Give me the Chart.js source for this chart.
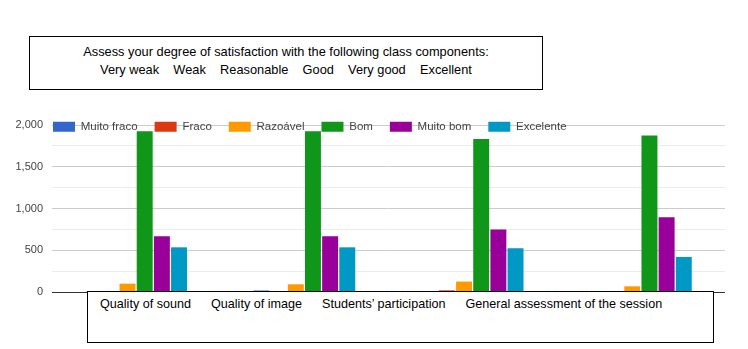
<!DOCTYPE html>
<html>
<head>
<meta charset="utf-8">
<script src="https://cdn.jsdelivr.net/npm/chart.js@4/dist/chart.umd.min.js"></script>
<style>
  html, body { margin: 0; padding: 0; background: #fff; }
  #wrap { position: relative; width: 748px; height: 349px; overflow: hidden; }
  canvas { position: absolute; left: 0; top: 0; }
  .box {
    position: absolute; background: #fff; border: 1px solid #000;
    font-family: "Liberation Sans", Arial, sans-serif; font-size: 12.8px; color: #000;
    box-sizing: border-box;
  }
  #question { left: 29px; top: 36px; width: 514px; height: 54px; text-align: center; padding-top: 6px; line-height: 18px; }
  #question .scale { white-space: pre; }
  #categoryBox { left: 87px; top: 291px; width: 627px; height: 52px; padding: 5px 0 0 12px; font-size: 12.6px; }
  #categoryBox span { margin-right: 20px; }
</style>
</head>
<body>
<div id="wrap">
  <canvas id="chart" width="748" height="349"></canvas>
  <div class="box" id="question">
    <div>Assess your degree of satisfaction with the following class components:</div>
    <div class="scale" id="scaleLine"></div>
  </div>
  <div class="box" id="categoryBox"></div>
</div>
<script>
// categories and series
const categories = ['Quality of sound', 'Quality of image', 'Students\u2019 participation', 'General assessment of the session'];
const seriesNames = ['Muito fraco', 'Fraco', 'Razoável', 'Bom', 'Muito bom', 'Excelente'];
const scaleLabels = ['Very weak', 'Weak', 'Reasonable', 'Good', 'Very good', 'Excellent'];

const muitoFraco = [3, 18, 1, 2];
const fraco = [9, 4, 20, 4];
const razoavel = [100, 92, 125, 68];
const bom = [1926, 1926, 1833, 1874];
const muitoBom = [667, 667, 748, 895];
const excelente = [535, 535, 524, 420];

const colors = ['#3366cc', '#dc3912', '#ff9900', '#109618', '#990099', '#0099c6'];

document.getElementById('scaleLine').textContent = scaleLabels.join('    ');
const catBox = document.getElementById('categoryBox');
categories.forEach(c => {
    const s = document.createElement('span');
    s.textContent = c;
    catBox.appendChild(s);
});

const seriesData = [muitoFraco, fraco, razoavel, bom, muitoBom, excelente];

// legend takes no room in the layout, then gets moved onto the top gridline
const legendShift = {
    id: 'legendShift',
    beforeLayout(chart) {
        const lg = chart.legend;
        if (lg && !lg._patched) {
            const origFit = lg.fit.bind(lg);
            lg.fit = function() {
                origFit();
                this.height = 0;
            };
            lg._patched = true;
        }
    },
    afterLayout(chart) {
        const pad = chart.options.plugins.legend.labels.padding;
        const lg = chart.legend;
        const area = chart.chartArea;
        lg.left = area.left + 1 - pad;
        lg.right = area.right + 40;
        lg.width = lg.right - lg.left;
        lg.top = area.top - 4 - pad;
        lg.bottom = lg.top + 30;
    }
};

new Chart(document.getElementById('chart').getContext('2d'), {
    type: 'bar',
    data: {
        labels: categories,
        datasets: seriesNames.map((name, i) => ({
            label: name,
            data: seriesData[i],
            backgroundColor: colors[i],
            borderWidth: 0,
            categoryPercentage: 0.612,
            barPercentage: 0.93
        }))
    },
    options: {
        responsive: false,
        animation: false,
        layout: { padding: { left: 0, right: 23, top: 125, bottom: 57 } },
        plugins: {
            legend: {
                position: 'top',
                align: 'start',
                labels: {
                    boxWidth: 22,
                    boxHeight: 10,
                    padding: 17,
                    color: '#444',
                    font: { family: 'Liberation Sans', size: 11.5 }
                }
            },
            tooltip: { enabled: false }
        },
        scales: {
            x: { display: false },
            y: {
                min: 0,
                max: 2000,
                afterFit(scale) { scale.width = 52; },
                border: { display: false },
                grid: {
                    drawTicks: false,
                    lineWidth: 1,
                    color: ctx => ctx.tick.value === 0 ? '#333' : (ctx.tick.value % 500 === 0 ? '#cccccc' : '#ebebeb')
                },
                ticks: {
                    stepSize: 250,
                    padding: 9,
                    color: '#444',
                    font: { family: 'Liberation Sans', size: 11 },
                    callback: v => v % 500 === 0 ? v.toLocaleString('en-US') : ''
                }
            }
        }
    },
    plugins: [legendShift]
});
</script>
</body>
</html>
